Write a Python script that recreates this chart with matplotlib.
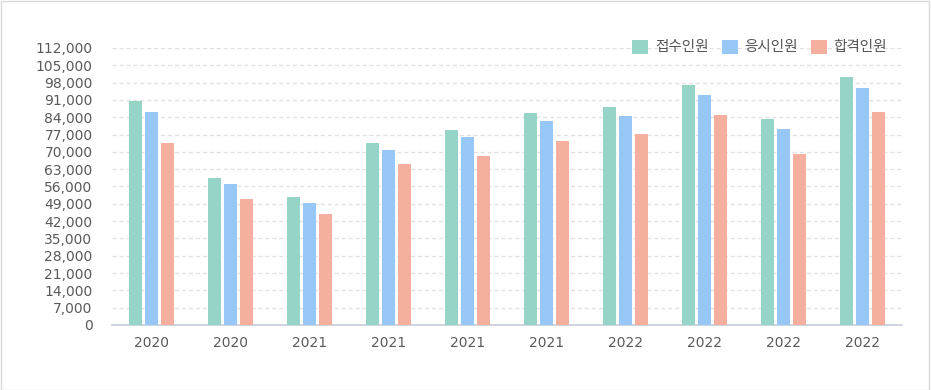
import numpy as np
import matplotlib
matplotlib.use('agg')
import matplotlib.pyplot as plt
from matplotlib.patches import Rectangle

plt.rcParams['font.family'] = ['Noto Sans CJK KR', 'DejaVu Sans']

years = ['2020', '2020', '2021', '2021', '2021', '2021', '2022', '2022', '2022', '2022']
series_names = ['접수인원', '응시인원', '합격인원']
applied = [90600, 59400, 51800, 73600, 78900, 85700, 88100, 97000, 83300, 100300]
tested = [86100, 57000, 49300, 70800, 76000, 82500, 84500, 93000, 79300, 95800]
passed = [73600, 51000, 44900, 65100, 68300, 74400, 77200, 84900, 69100, 86100]
colors = ['#96d4c8', '#97c7f7', '#f4af9e']
yticks = list(range(0, 112001, 7000))

fig = plt.figure(figsize=(9.31, 3.90), dpi=100)
fig.patches.append(Rectangle((0.001, 0.001), 0.997, 0.996, transform=fig.transFigure,
                             fill=False, edgecolor='#d8d8d8', linewidth=1))
ax = fig.add_axes([112 / 931, 1 - 325 / 390, 790 / 931, 277 / 390])

x = np.arange(len(years))
bw = 13 / 79
step = 16 / 79
for i, (vals, name) in enumerate(zip([applied, tested, passed], series_names)):
    ax.bar(x + (i - 1) * step, vals, width=bw, color=colors[i], label=name, zorder=3)

ax.set_xlim(-0.5, len(years) - 0.5)
ax.set_ylim(0, 112000)
ax.set_yticks(yticks)
ax.set_yticklabels([f'{v:,}' for v in yticks])
ax.set_xticks(x)
ax.set_xticklabels(years)
ax.grid(axis='y', linestyle=(0, (3, 2)), color='#e2e2e2', linewidth=1, zorder=0)
for s in ['top', 'right', 'left']:
    ax.spines[s].set_visible(False)
ax.spines['bottom'].set_color('#c6ccd8')
ax.spines['bottom'].set_linewidth(1.2)
ax.tick_params(axis='both', length=0, labelsize=10, colors='#5a5a5a')
ax.tick_params(axis='x', pad=8)
ax.tick_params(axis='y', pad=14)
for t in ax.get_yticklabels() + ax.get_xticklabels():
    t.set_family(['DejaVu Sans'])

leg = ax.legend(loc='center right', bbox_to_anchor=(900 / 931, 1 - 47 / 390),
                bbox_transform=fig.transFigure, ncol=3, frameon=False,
                fontsize=10.5, handlelength=1.1, handleheight=1.1,
                handletextpad=0.45, columnspacing=0.9)
for t in leg.get_texts():
    t.set_color('#555555')

fig.savefig('out.png', dpi=100)
